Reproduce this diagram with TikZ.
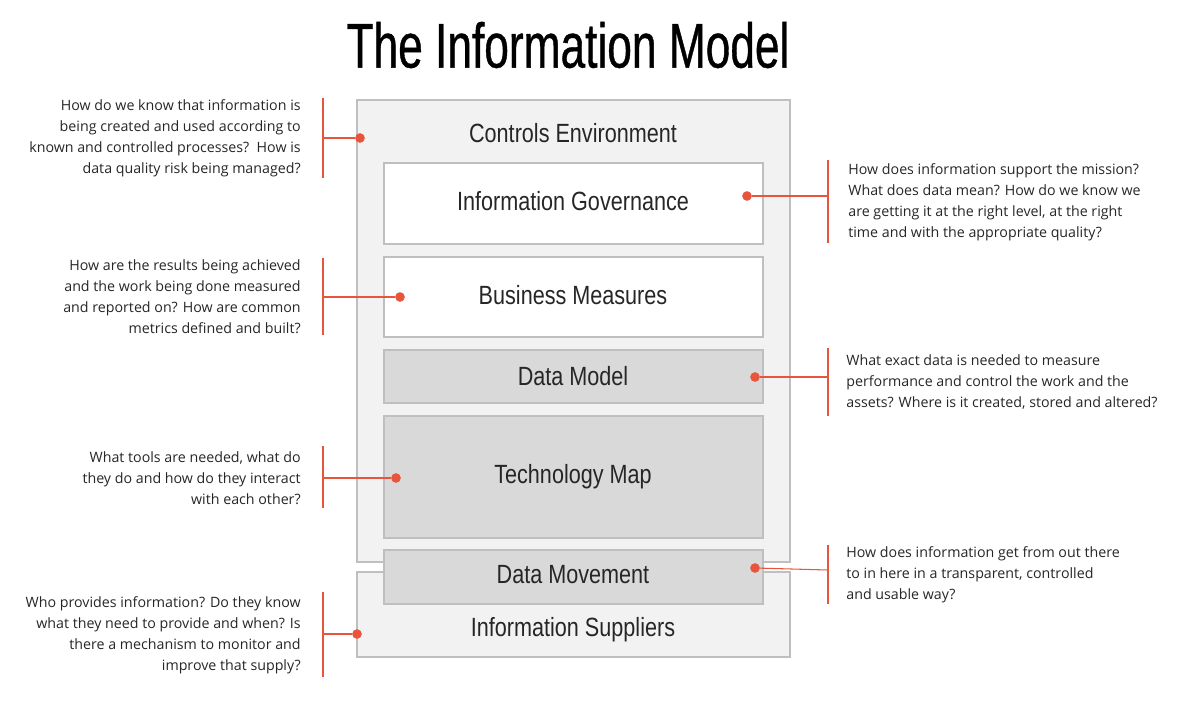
\documentclass[tikz,border=0pt]{standalone}
\usepackage{fontspec}
\setmainfont{Open Sans}
\newfontfamily\narrowf[FakeStretch=0.82]{Liberation Sans}
\newfontfamily\titlef[FakeStretch=0.7,FakeBold=0.6]{Liberation Sans}
\definecolor{accent}{HTML}{E8543C}
\begin{document}
\begin{tikzpicture}[x=0.02cm,y=-0.02cm,
 outer/.style={draw=black!25,fill=black!5,line width=0.6pt},
 wbox/.style={draw=black!25,fill=white,line width=0.6pt},
 gbox/.style={draw=black!25,fill=black!15,line width=0.6pt},
 lbl/.style={font=\narrowf\fontsize{15}{18}\selectfont,text=black!85},
 note/.style={font=\fontsize{8.1}{11.9}\selectfont,text=black!85,inner sep=0pt},
 rl/.style={draw=accent,line width=0.6pt},
 dot/.style={circle,fill=accent,inner sep=0pt,minimum size=5.5pt}]
\useasboundingbox (0,0) rectangle (1192,702);
\node[font=\titlef\fontsize{36}{42}\selectfont] (title) at (568,45) {The Information Model};
\draw[outer] (357,100) rectangle (790,562);
\draw[outer] (357,572) rectangle (790,657);
\node[lbl] (ce) at (573,133) {Controls Environment};
\node[lbl] (is) at (573,630) {Information Suppliers};
\draw[wbox] (384,163) rectangle (763,244); \node[lbl] (ig) at (573,201) {Information Governance};
\draw[wbox] (384,257) rectangle (763,337); \node[lbl] (bm) at (573,295) {Business Measures};
\draw[gbox] (384,350) rectangle (763,403); \node[lbl] (dm) at (573,376) {Data Model};
\draw[gbox] (384,416) rectangle (763,538); \node[lbl] (tm) at (573,477) {Technology Map};
\draw[gbox] (384,550) rectangle (763,604); \node[lbl] (dmv) at (573,575) {Data Movement};
% left notes
\node[dot] (d1) at (360,138) {}; \coordinate (c1) at (323,138);
\draw[rl] (d1) -- (c1); \draw[rl] (323,98) -- (323,178);
\node[note,anchor=east,align=right] (n1) at (301,138) {How do we know that information is\\being created and used according to\\known and controlled processes?\ \ How is\\data quality risk being managed?};
\node[dot] (d3) at (400,297) {}; \coordinate (c3) at (323,297);
\draw[rl] (d3) -- (c3); \draw[rl] (323,258) -- (323,335);
\node[note,anchor=east,align=right] (n3) at (301,297) {How are the results being achieved\\and the work being done measured\\and reported on? How are common\\metrics defined and built?};
\node[dot] (d5) at (396,478) {}; \coordinate (c5) at (323,478);
\draw[rl] (d5) -- (c5); \draw[rl] (323,446) -- (323,508);
\node[note,anchor=east,align=right] (n5) at (301,478) {What tools are needed, what do\\they do and how do they interact\\with each other?};
\node[dot] (d7) at (357,634) {}; \coordinate (c7) at (323,634);
\draw[rl] (d7) -- (c7); \draw[rl] (323,592) -- (323,677);
\node[note,anchor=east,align=right] (n7) at (301,635) {Who provides information? Do they know\\what they need to provide and when? Is\\there a mechanism to monitor and\\improve that supply?};
% right notes
\node[dot] (d2) at (747,196) {}; \coordinate (c2) at (828,196);
\draw[rl] (d2) -- (c2); \draw[rl] (828,160) -- (828,243);
\node[note,anchor=west,align=left] (n2) at (848,202) {How does information support the mission?\\What does data mean? How do we know we\\are getting it at the right level, at the right\\time and with the appropriate quality?};
\node[dot] (d4) at (755,377) {}; \coordinate (c4) at (828,377);
\draw[rl] (d4) -- (c4); \draw[rl] (828,348) -- (828,416);
\node[note,anchor=west,align=left] (n4) at (846,382) {What exact data is needed to measure\\performance and control the work and the\\assets? Where is it created, stored and altered?};
\node[dot] (d6) at (755,568) {}; \coordinate (c6) at (828,570);
\draw[rl] (d6) -- (c6); \draw[rl] (828,545) -- (828,604);
\node[note,anchor=west,align=left] (n6) at (846,575) {How does information get from out there\\to in here in a transparent, controlled\\and usable way?};
\end{tikzpicture}
\end{document}
